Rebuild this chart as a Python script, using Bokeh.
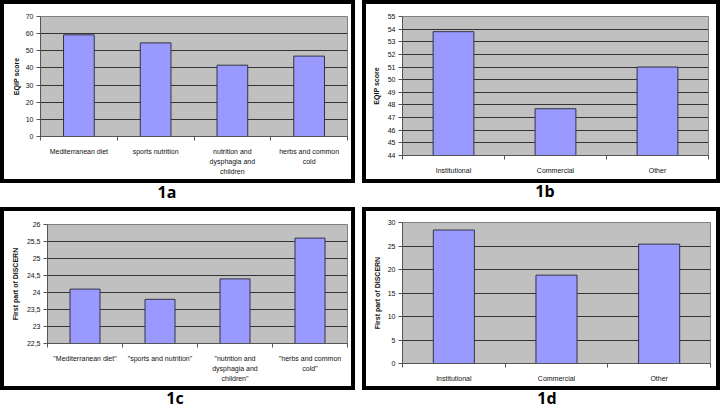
from bokeh.plotting import figure
from bokeh.models import Range1d, FixedTicker, Div, Spacer
from bokeh.layouts import column, row
from bokeh.embed import file_html
from bokeh.resources import INLINE

# ---- data ----
topics_a = ["Mediterranean diet", "sports nutrition", "nutrition and\ndysphagia and\nchildren", "herbs and common\ncold"]
eqip_topics = [59.3, 54.6, 41.6, 46.9]
yticks_a = [0, 10, 20, 30, 40, 50, 60, 70]

sources_b = ["Institutional", "Commercial", "Other"]
eqip_sources = [53.8, 47.7, 51.0]
yticks_b = [44, 45, 46, 47, 48, 49, 50, 51, 52, 53, 54, 55]

topics_c = ['"Mediterranean diet"', '"sports and nutrition"', '"nutrition and\ndysphagia and\nchildren"', '"herbs and common\ncold"']
discern_topics = [24.1, 23.8, 24.4, 25.6]
yticks_c = [22.5, 23, 23.5, 24, 24.5, 25, 25.5, 26]

sources_d = ["Institutional", "Commercial", "Other"]
discern_sources = [28.4, 18.8, 25.4]
yticks_d = [0, 5, 10, 15, 20, 25, 30]

FONT = "Liberation Sans"


def fmt(v):
    return ("%g" % v).replace(".", ",")


def panel(cats, vals, yticks, ylabel, w, h, ml, mr, mt, mb, standoff):
    n = len(cats)
    xs = list(range(1, n + 1))
    p = figure(width=w, height=h, output_backend="svg", toolbar_location=None,
               x_range=Range1d(0.5, n + 0.5), y_range=Range1d(yticks[0], yticks[-1]),
               min_border_left=ml, min_border_right=mr, min_border_top=mt, min_border_bottom=mb)
    p.background_fill_color = "#C0C0C0"
    p.border_fill_color = "white"
    p.outline_line_color = "#808080"
    p.outline_line_width = 1
    p.vbar(x=xs, top=vals, bottom=yticks[0], width=0.4,
           fill_color="#9999FF", line_color="#333344", line_width=1)
    # x axis
    p.xaxis.ticker = FixedTicker(ticks=xs, minor_ticks=[x - 0.5 for x in xs] + [n + 0.5])
    p.xaxis.major_label_overrides = {x: c for x, c in zip(xs, cats)}
    p.xaxis.major_tick_line_color = None
    p.xaxis.major_tick_out = 0
    p.xaxis.major_tick_in = 0
    p.xaxis.minor_tick_line_color = "#555555"
    p.xaxis.minor_tick_out = 4
    p.xaxis.minor_tick_in = 0
    p.xaxis.axis_line_color = "#555555"
    p.xaxis.major_label_text_font = FONT
    p.xaxis.major_label_text_font_size = "7px"
    p.xaxis.major_label_text_line_height = 1.45
    p.xaxis.major_label_text_color = "#111111"
    p.xaxis.major_label_standoff = 7
    p.xgrid.grid_line_color = None
    # y axis
    p.yaxis.ticker = FixedTicker(ticks=yticks)
    p.yaxis.major_label_overrides = {t: fmt(t) for t in yticks}
    p.yaxis.minor_tick_line_color = None
    p.yaxis.major_tick_out = 4
    p.yaxis.major_tick_in = 0
    p.yaxis.major_tick_line_color = "#555555"
    p.yaxis.axis_line_color = "#555555"
    p.yaxis.major_label_text_font = FONT
    p.yaxis.major_label_text_font_size = "7px"
    p.yaxis.major_label_text_color = "#111111"
    p.yaxis.major_label_standoff = 3
    p.yaxis.axis_label = ylabel
    p.yaxis.axis_label_text_font = FONT
    p.yaxis.axis_label_text_font_size = "7px"
    p.yaxis.axis_label_text_font_style = "bold"
    p.yaxis.axis_label_text_color = "#111111"
    p.yaxis.axis_label_standoff = standoff
    p.ygrid.ticker = FixedTicker(ticks=yticks[1:-1])
    p.ygrid.grid_line_color = "#333333"
    p.ygrid.grid_line_width = 1
    return column(p, spacing=0, styles={"border": "4px solid black", "box-sizing": "content-box"})


pa = panel(topics_a, eqip_topics, yticks_a, "EQIP score", 347, 175, 36, 4, 12, 43, 3)
pb = panel(sources_b, eqip_sources, yticks_b, "EQIP score", 350, 175, 36, 8, 12, 24, 5)
pc = panel(topics_c, discern_topics, yticks_c, "First part of DISCERN", 347, 175, 43, 4, 13, 43, 5)
pd = panel(sources_d, discern_sources, yticks_d, "First part of DISCERN", 350, 175, 36, 6, 11, 23, 4)


def label(txt, w, h, pad):
    return Div(text=txt, width=w, height=h, margin=0,
               styles={"font-family": "Open Sans", "font-weight": "bold", "font-size": "16px",
                       "line-height": "17px", "text-align": "center", "padding-top": "%dpx" % pad,
                       "color": "black"})


row1 = row(pa, Spacer(width=7, height=183), pb, spacing=0)
lab1 = row(label("1a", 334, 24, 1), Spacer(width=38, height=24), label("1b", 346, 24, 0), spacing=0)
row2 = row(pc, Spacer(width=7, height=183), pd, spacing=0)
lab2 = row(label("1c", 350, 24, 0), Spacer(width=26, height=24), label("1d", 342, 24, 0), spacing=0)

layout = column(row1, lab1, row2, lab2, spacing=0)

open("out.html", "w").write(file_html(layout, INLINE))
